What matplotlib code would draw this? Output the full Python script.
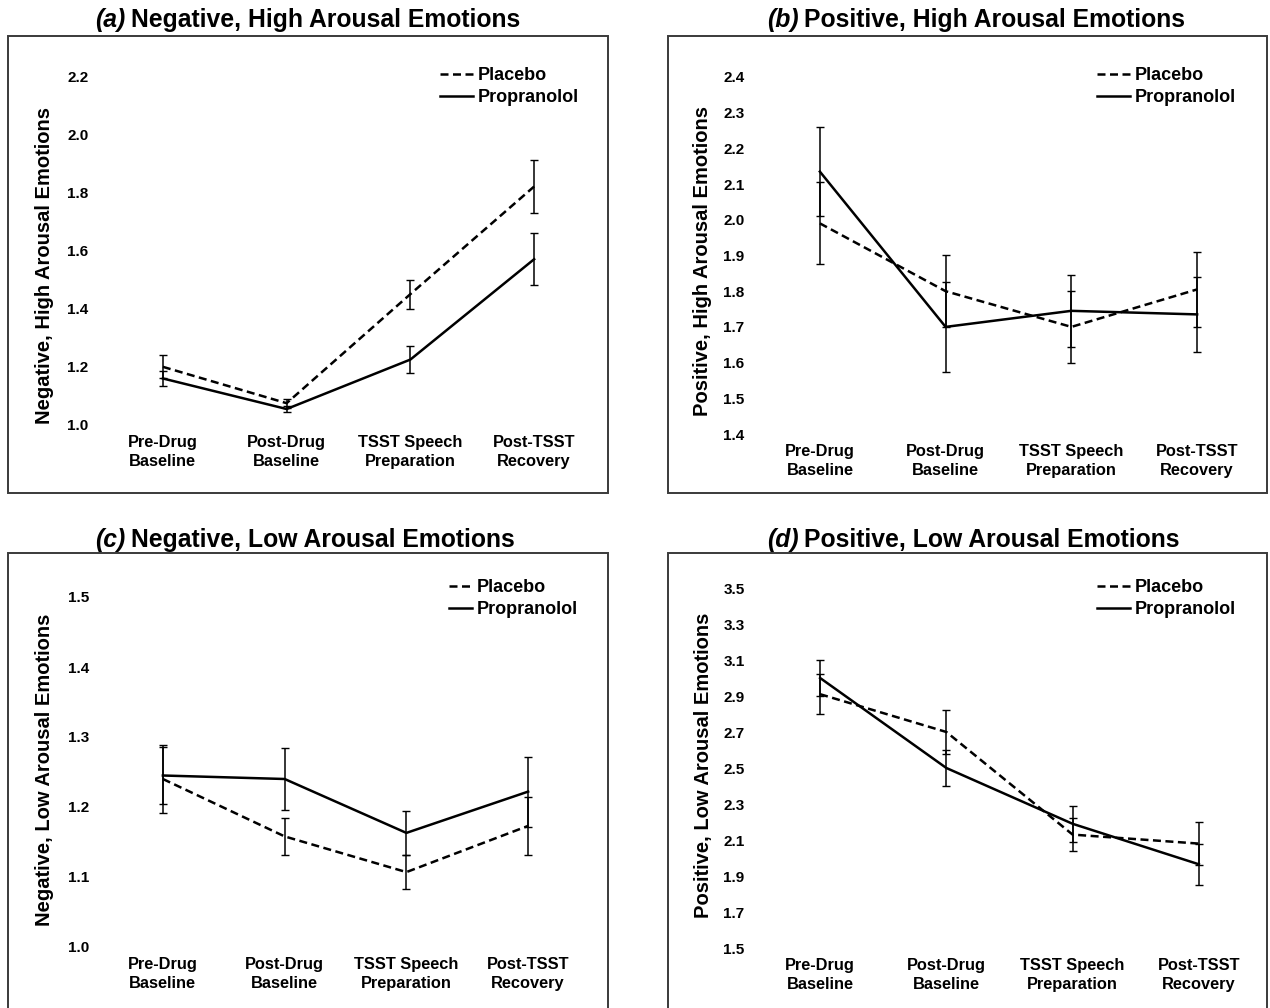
import numpy as np
import matplotlib
matplotlib.use("Agg")
import matplotlib.pyplot as plt
from matplotlib.patches import Rectangle

plt.rcParams['font.family'] = ['Liberation Sans', 'DejaVu Sans']
plt.rcParams['font.weight'] = 'bold'

categories = ["Pre-Drug\nBaseline", "Post-Drug\nBaseline", "TSST Speech\nPreparation", "Post-TSST\nRecovery"]

# (a) negative, high arousal
a_placebo = [1.20, 1.075, 1.45, 1.82]
a_placebo_err = [0.04, 0.015, 0.05, 0.09]
a_prop = [1.16, 1.055, 1.225, 1.57]
a_prop_err = [0.025, 0.012, 0.045, 0.09]

# (b) positive, high arousal
b_placebo = [1.99, 1.80, 1.70, 1.805]
b_placebo_err = [0.115, 0.10, 0.10, 0.105]
b_prop = [2.135, 1.70, 1.745, 1.735]
b_prop_err = [0.125, 0.125, 0.10, 0.105]

# (c) negative, low arousal
c_placebo = [1.24, 1.158, 1.107, 1.173]
c_placebo_err = [0.048, 0.027, 0.024, 0.041]
c_prop = [1.245, 1.24, 1.163, 1.222]
c_prop_err = [0.041, 0.044, 0.032, 0.05]

# (d) positive, low arousal
d_placebo = [2.91, 2.70, 2.13, 2.08]
d_placebo_err = [0.11, 0.12, 0.09, 0.12]
d_prop = [3.00, 2.50, 2.19, 1.965]
d_prop_err = [0.10, 0.10, 0.10, 0.115]

W, H = 1270, 1008
fig = plt.figure(figsize=(W / 100, H / 100), dpi=100)


def px_rect(left, top, right, bottom):
    return [left / W, 1 - bottom / H, (right - left) / W, (bottom - top) / H]


def panel(box, axbox, ylim, yticks, tag, title, title_xy, ylabel, ylabel_xy,
          placebo, placebo_err, prop, prop_err, leg_xy, handlelen):
    # outer frame around each chart
    l, t, r, b = box
    fig.patches.append(Rectangle((l / W, 1 - b / H), (r - l) / W, (b - t) / H,
                                 transform=fig.transFigure, fill=False,
                                 edgecolor='#3a3a3a', lw=1.4))
    ax = fig.add_axes(px_rect(*axbox))
    x = np.arange(len(categories))
    ax.errorbar(x, placebo, yerr=placebo_err, color='black', lw=1.8,
                ls=(0, (3.2, 1.8)), elinewidth=1.1, capsize=2.6, capthick=1.0,
                label='Placebo', clip_on=False)
    ax.errorbar(x, prop, yerr=prop_err, color='black', lw=1.8, ls='-',
                elinewidth=1.1, capsize=2.6, capthick=1.0,
                label='Propranolol', clip_on=False)
    ax.set_xlim(-0.5, 3.5)
    ax.set_ylim(*ylim)
    ax.set_yticks(yticks)
    ax.set_yticklabels(['%.1f' % v for v in yticks])
    ax.set_xticks(x)
    ax.set_xticklabels(categories, fontsize=11.8, fontweight='bold', linespacing=1.35)
    ax.tick_params(axis='y', length=0, pad=9, labelsize=11)
    ax.tick_params(axis='x', length=0, pad=7)
    for s in ax.spines.values():
        s.set_visible(False)
    ax.patch.set_alpha(0)

    handles, labels = ax.get_legend_handles_labels()
    handles = [h[0] for h in handles]
    ax.legend(handles, labels, loc='upper left',
              bbox_to_anchor=(leg_xy[0] / W, 1 - leg_xy[1] / H),
              bbox_transform=fig.transFigure, frameon=False, borderpad=0,
              borderaxespad=0, handlelength=handlelen, handletextpad=0.25,
              labelspacing=0.28, prop={'size': 13, 'weight': 'bold'})

    t1 = fig.text(title_xy[0] / W, 1 - title_xy[1] / H, tag, fontsize=17.8,
                  fontweight='bold', style='italic', va='baseline', ha='left')
    ax.annotate(title, xy=(1, 0), xycoords=t1, xytext=(4, 0),
                textcoords='offset points', fontsize=17.8, fontweight='bold',
                va='bottom', ha='left', annotation_clip=False)
    fig.text(ylabel_xy[0] / W, 1 - ylabel_xy[1] / H, ylabel, rotation=90,
             fontsize=14.5, fontweight='bold', ha='center', va='center')
    return ax


panel((8, 36, 608, 493), (101, 76, 596, 425), (1.0, 2.2),
      [1.0, 1.2, 1.4, 1.6, 1.8, 2.0, 2.2],
      '(a)', 'Negative, High Arousal Emotions', (95, 27),
      'Negative, High Arousal Emotions', (45, 265),
      a_placebo, a_placebo_err, a_prop, a_prop_err, (440, 67), 1.85)

panel((668, 36, 1267, 493), (757, 77, 1260, 434), (1.4, 2.4),
      [1.4, 1.5, 1.6, 1.7, 1.8, 1.9, 2.0, 2.1, 2.2, 2.3, 2.4],
      '(b)', 'Positive, High Arousal Emotions', (767, 27),
      'Positive, High Arousal Emotions', (703, 261),
      b_placebo, b_placebo_err, b_prop, b_prop_err, (1097, 67), 1.85)

panel((8, 553, 608, 1012), (102, 597, 589, 947), (1.0, 1.5),
      [1.0, 1.1, 1.2, 1.3, 1.4, 1.5],
      '(c)', 'Negative, Low Arousal Emotions', (95, 547),
      'Negative, Low Arousal Emotions', (45, 770),
      c_placebo, c_placebo_err, c_prop, c_prop_err, (449, 579), 1.3)

panel((668, 553, 1267, 1012), (757, 588, 1262, 948), (1.5, 3.5),
      [1.5, 1.7, 1.9, 2.1, 2.3, 2.5, 2.7, 2.9, 3.1, 3.3, 3.5],
      '(d)', 'Positive, Low Arousal Emotions', (767, 547),
      'Positive, Low Arousal Emotions', (703, 765),
      d_placebo, d_placebo_err, d_prop, d_prop_err, (1097, 579), 1.85)

fig.savefig('out.png', dpi=100)
